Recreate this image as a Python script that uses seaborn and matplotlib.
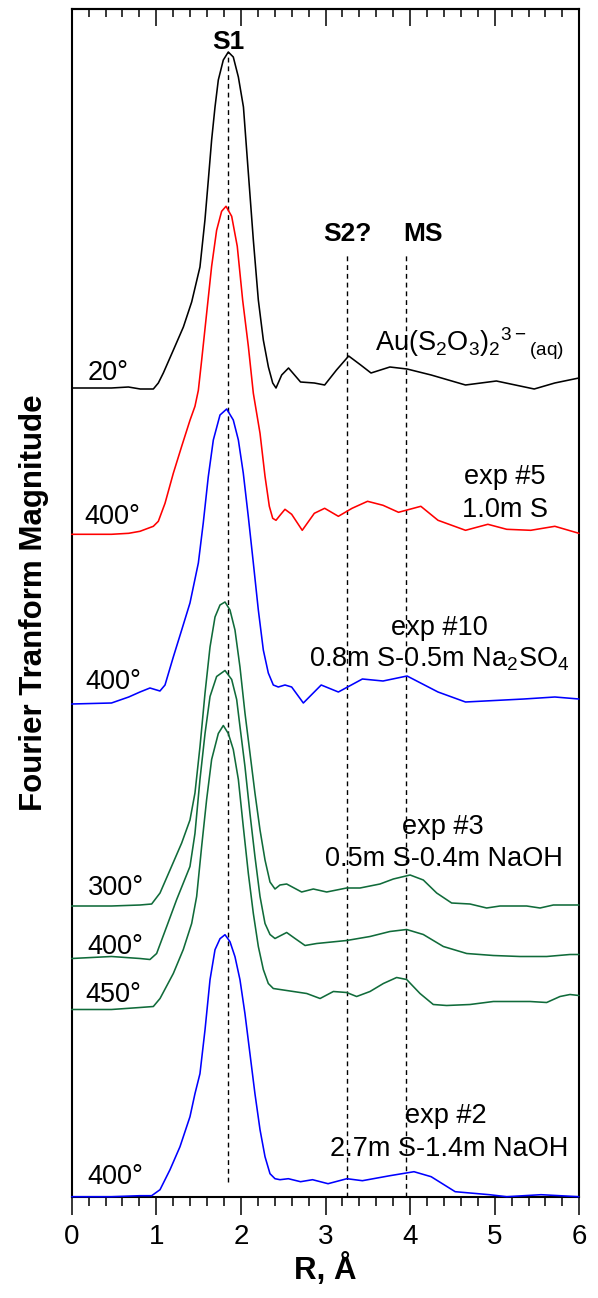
import numpy as np
import pandas as pd
import seaborn as sns
import matplotlib.pyplot as plt
from matplotlib.ticker import MultipleLocator

# R in angstrom, FT magnitude (arb. units), each trace on its own baseline
r_aq = [0.00, 0.47, 0.67, 0.81, 0.965, 1.024, 1.083, 1.202, 1.32, 1.418, 1.516, 1.575, 1.615, 1.654, 1.694, 1.733,
        1.792, 1.851, 1.91, 1.97, 2.03, 2.088, 2.147, 2.206, 2.265, 2.325, 2.376, 2.415, 2.482, 2.563, 2.705, 2.868,
        2.99, 3.13, 3.274, 3.416, 3.538, 3.761, 3.964, 4.249, 4.655, 5.02, 5.467, 5.71, 5.995]
ft_aq = [0.01, 0.01, 0.02, 0.00, 0.00, 0.06, 0.16, 0.39, 0.62, 0.87, 1.22, 1.69, 2.09, 2.49, 2.82, 3.09,
         3.29, 3.37, 3.32, 3.12, 2.82, 2.16, 1.49, 0.89, 0.49, 0.22, 0.06, 0.01, 0.14, 0.21, 0.07, 0.06,
         0.04, 0.19, 0.33, 0.24, 0.16, 0.22, 0.20, 0.14, 0.04, 0.08, 0.00, 0.06, 0.11]

r_exp5 = [0.00, 0.47, 0.674, 0.807, 0.965, 1.024, 1.103, 1.201, 1.30, 1.398, 1.457, 1.497, 1.536, 1.595, 1.654, 1.713,
          1.772, 1.824, 1.891, 1.957, 2.021, 2.088, 2.147, 2.226, 2.285, 2.336, 2.376, 2.415, 2.462, 2.521, 2.60,
          2.725, 2.868, 2.99, 3.152, 3.314, 3.497, 3.68, 3.863, 4.127, 4.33, 4.655, 4.919, 5.142, 5.426, 5.711, 5.995]
ft_exp5 = [0.00, 0.00, 0.01, 0.03, 0.08, 0.13, 0.31, 0.61, 0.88, 1.14, 1.28, 1.44, 1.74, 2.21, 2.68, 3.04,
           3.23, 3.28, 3.18, 2.88, 2.34, 1.88, 1.41, 1.01, 0.58, 0.28, 0.16, 0.14, 0.19, 0.25, 0.20,
           0.04, 0.21, 0.26, 0.18, 0.26, 0.33, 0.29, 0.22, 0.28, 0.14, 0.04, 0.10, 0.05, 0.04, 0.08, 0.01]

r_exp10 = [0.00, 0.47, 0.674, 0.807, 0.925, 1.043, 1.103, 1.201, 1.30, 1.398, 1.497, 1.555, 1.614, 1.674, 1.753,
           1.832, 1.91, 1.97, 2.028, 2.088, 2.147, 2.206, 2.265, 2.324, 2.383, 2.442, 2.521, 2.60, 2.738, 2.949,
           3.152, 3.436, 3.68, 3.964, 4.33, 4.655, 5.345, 5.711, 5.995]
ft_exp10 = [0.00, 0.01, 0.07, 0.12, 0.16, 0.13, 0.19, 0.47, 0.74, 1.01, 1.41, 1.81, 2.27, 2.64, 2.89,
            2.95, 2.84, 2.64, 2.31, 1.87, 1.41, 0.94, 0.54, 0.31, 0.19, 0.17, 0.19, 0.17, 0.01, 0.19,
            0.12, 0.25, 0.23, 0.28, 0.12, 0.02, 0.05, 0.07, 0.05]

r_exp3_300 = [0.00, 0.47, 0.807, 0.945, 1.044, 1.162, 1.30, 1.398, 1.457, 1.516, 1.576, 1.635, 1.694, 1.753, 1.812,
              1.871, 1.93, 1.989, 2.048, 2.107, 2.166, 2.226, 2.285, 2.344, 2.403, 2.462, 2.541, 2.718, 2.856,
              3.014, 3.25, 3.408, 3.644, 3.802, 4.0, 4.156, 4.314, 4.491, 4.708, 4.905, 5.063, 5.22, 5.378,
              5.536, 5.693, 5.89, 5.995]
ft_exp3_300 = [0.00, 0.00, 0.01, 0.02, 0.13, 0.36, 0.63, 0.86, 1.13, 1.59, 2.13, 2.59, 2.89, 3.01, 3.04,
               2.96, 2.76, 2.39, 1.93, 1.53, 1.13, 0.76, 0.46, 0.24, 0.17, 0.21, 0.22, 0.14, 0.17,
               0.14, 0.18, 0.18, 0.22, 0.27, 0.31, 0.26, 0.13, 0.03, 0.02, -0.02, 0.00, 0.00, 0.00,
               -0.02, 0.01, 0.01, 0.01]

r_exp3_400 = [0.00, 0.47, 0.807, 0.925, 1.004, 1.123, 1.241, 1.398, 1.457, 1.516, 1.576, 1.635, 1.713, 1.812, 1.891,
              1.95, 1.989, 2.048, 2.107, 2.166, 2.226, 2.285, 2.344, 2.403, 2.541, 2.64, 2.758, 2.896, 3.25,
              3.526, 3.762, 3.959, 4.156, 4.393, 4.669, 4.984, 5.299, 5.614, 5.89, 5.995]
ft_exp3_400 = [0.00, 0.02, 0.00, -0.01, 0.05, 0.32, 0.59, 0.92, 1.25, 1.79, 2.25, 2.62, 2.82, 2.88, 2.79,
               2.59, 2.32, 1.92, 1.45, 1.02, 0.62, 0.35, 0.24, 0.20, 0.26, 0.20, 0.13, 0.15, 0.18,
               0.22, 0.27, 0.29, 0.24, 0.12, 0.05, 0.03, 0.02, 0.02, 0.04, 0.04]

r_exp3_450 = [0.00, 0.47, 0.807, 0.965, 1.044, 1.201, 1.319, 1.418, 1.477, 1.536, 1.595, 1.654, 1.733, 1.792, 1.851,
              1.91, 1.97, 2.028, 2.088, 2.147, 2.206, 2.265, 2.324, 2.383, 2.462, 2.62, 2.778, 2.936, 3.093,
              3.25, 3.368, 3.526, 3.684, 3.841, 3.959, 4.117, 4.274, 4.432, 4.708, 4.984, 5.22, 5.417, 5.614,
              5.772, 5.89, 5.995]
ft_exp3_450 = [-0.01, -0.01, 0.01, 0.02, 0.10, 0.35, 0.59, 0.85, 1.12, 1.62, 2.09, 2.49, 2.75, 2.83, 2.75,
               2.59, 2.29, 1.82, 1.35, 0.95, 0.62, 0.39, 0.25, 0.20, 0.19, 0.17, 0.15, 0.10, 0.17,
               0.16, 0.12, 0.17, 0.25, 0.31, 0.29, 0.15, 0.04, 0.03, 0.04, 0.07, 0.07, 0.07, 0.06,
               0.12, 0.14, 0.13]

r_exp2 = [0.00, 0.47, 0.807, 0.945, 1.044, 1.162, 1.28, 1.398, 1.457, 1.516, 1.576, 1.635, 1.694, 1.753, 1.812,
          1.871, 1.93, 1.989, 2.048, 2.107, 2.166, 2.226, 2.285, 2.344, 2.403, 2.462, 2.561, 2.705, 2.847, 3.03,
          3.253, 3.436, 3.761, 4.046, 4.249, 4.533, 4.939, 5.142, 5.548, 5.995]
ft_exp2 = [0.00, 0.00, 0.01, 0.01, 0.07, 0.27, 0.50, 0.80, 1.03, 1.23, 1.67, 2.17, 2.47, 2.58, 2.62,
           2.55, 2.40, 2.17, 1.83, 1.43, 1.03, 0.67, 0.40, 0.23, 0.18, 0.17, 0.18, 0.15, 0.17, 0.13,
           0.18, 0.16, 0.21, 0.25, 0.20, 0.05, 0.02, 0.00, 0.02, 0.00]

trace_names = ["aq_20", "exp5_400", "exp10_400", "exp3_300", "exp3_400", "exp3_450", "exp2_400"]
trace_r = [r_aq, r_exp5, r_exp10, r_exp3_300, r_exp3_400, r_exp3_450, r_exp2]
trace_ft = [ft_aq, ft_exp5, ft_exp10, ft_exp3_300, ft_exp3_400, ft_exp3_450, ft_exp2]
offsets = [8.077, 6.624, 4.927, 2.907, 2.382, 1.882, 0.0]
colors = ["#000000", "#ff0000", "#0000ff", "#106b3a", "#106b3a", "#106b3a", "#0000ff"]
temps = ["20°", "400°", "400°", "300°", "400°", "450°", "400°"]

peak_pos = [1.844, 3.258, 3.952]
peak_names = ["S1", "S2?", "MS"]

rows = []
for name, rr, ff, off in zip(trace_names, trace_r, trace_ft, offsets):
    for a, b in zip(rr, ff):
        rows.append((name, a, b + off))
df = pd.DataFrame(rows, columns=["trace", "R", "FT"])

sns.set_style("white")
plt.rcParams["font.family"] = ["Liberation Sans", "DejaVu Sans"]
plt.rcParams["mathtext.fontset"] = "custom"
plt.rcParams["mathtext.rm"] = "Liberation Sans"
plt.rcParams["mathtext.it"] = "Liberation Sans:italic"
plt.rcParams["mathtext.bf"] = "Liberation Sans:bold"
plt.rcParams["text.color"] = "black"
plt.rcParams["axes.labelcolor"] = "black"
plt.rcParams["xtick.color"] = "black"

fig = plt.figure(figsize=(5.98, 12.98), dpi=100)
ax = fig.add_axes([71.7 / 598, 1 - 1196.7 / 1298, 507.6 / 598, 1187.7 / 1298])

sns.lineplot(data=df, x="R", y="FT", hue="trace", palette=dict(zip(trace_names, colors)),
             estimator=None, sort=False, legend=False, lw=1.15, zorder=3, clip_on=False, ax=ax)

# dashed guides at the shell positions
ax.plot([peak_pos[0]] * 2, [0.15, 11.45], color="black", lw=1.0, dashes=(3.5, 2.8))
ax.plot([peak_pos[1]] * 2, [0.0, 9.45], color="black", lw=1.0, dashes=(3.5, 2.8))
ax.plot([peak_pos[2]] * 2, [0.0, 9.45], color="black", lw=1.0, dashes=(3.5, 2.8))

ax.text(1.852, 11.48, peak_names[0], fontsize=19, fontweight="bold", ha="center", va="baseline")
ax.text(3.264, 9.56, peak_names[1], fontsize=19, fontweight="bold", ha="center", va="baseline")
ax.text(4.147, 9.56, peak_names[2], fontsize=19, fontweight="bold", ha="center", va="baseline")

# temperature labels on the left
temp_x = [0.187, 0.145, 0.167, 0.187, 0.187, 0.167, 0.187]
temp_y = [8.167, 6.73, 5.08, 3.02, 2.43, 1.95, 0.13]
for tx, ty, t in zip(temp_x, temp_y, temps):
    ax.text(tx, ty, t, fontsize=19.5, ha="left", va="baseline")

ax.text(3.59, 8.45, r"Au(S$_2$O$_3$)$_2$$^{3-}$$_{\mathrm{(aq)}}$", fontsize=19.5, ha="left", va="baseline")
ax.text(5.122, 7.13, "exp #5", fontsize=19.5, ha="center", va="baseline")
ax.text(5.122, 6.80, "1.0m S", fontsize=19.5, ha="center", va="baseline")
ax.text(4.35, 5.62, "exp #10", fontsize=19.5, ha="center", va="baseline")
ax.text(4.35, 5.30, r"0.8m S-0.5m Na$_2$SO$_4$", fontsize=19.5, ha="center", va="baseline")
ax.text(4.39, 3.63, "exp #3", fontsize=19.5, ha="center", va="baseline")
ax.text(4.40, 3.31, "0.5m S-0.4m NaOH", fontsize=19.5, ha="center", va="baseline")
ax.text(4.42, 0.74, "exp #2", fontsize=19.5, ha="center", va="baseline")
ax.text(4.46, 0.41, "2.7m S-1.4m NaOH", fontsize=19.5, ha="center", va="baseline")

ax.set_xlim(0, 6)
ax.set_ylim(0, 11.877)
ax.set_yticks([])
ax.xaxis.set_major_locator(MultipleLocator(1))
ax.xaxis.set_minor_locator(MultipleLocator(0.2))
ax.tick_params(axis="x", which="major", direction="out", length=13, width=1.1, labelsize=20, pad=7,
               bottom=True, top=False, colors="black")
ax.tick_params(axis="x", which="minor", direction="out", length=6.5, width=1.1, bottom=True, top=False)

top = ax.secondary_xaxis("top")
top.xaxis.set_major_locator(MultipleLocator(1))
top.xaxis.set_minor_locator(MultipleLocator(0.2))
top.tick_params(axis="x", which="major", direction="in", length=12.5, width=1.1, labeltop=False)
top.tick_params(axis="x", which="minor", direction="in", length=6, width=1.1)

for s in ax.spines.values():
    s.set_linewidth(1.5)
    s.set_color("black")
top.spines["top"].set_linewidth(1.5)

ax.set_xlabel("R, Å", fontsize=22.5, fontweight="bold", labelpad=2)
ax.set_ylabel("Fourier Tranform Magnitude", fontsize=22.5, fontweight="bold", labelpad=16)

fig.savefig("out.png", dpi=100)
